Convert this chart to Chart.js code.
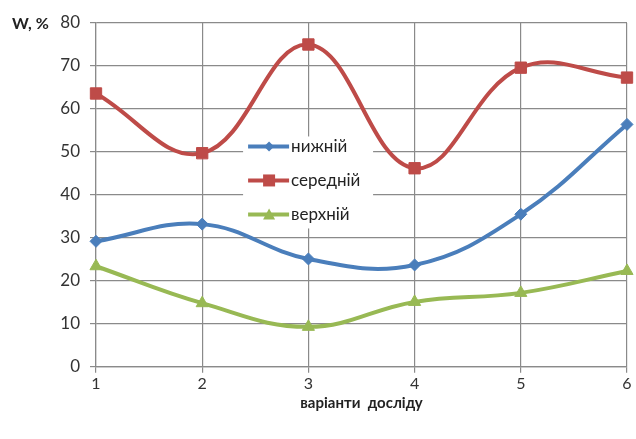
<!DOCTYPE html>
<html>
<head>
<meta charset="utf-8">
<script src="https://cdn.jsdelivr.net/npm/chart.js@4/dist/chart.umd.min.js"></script>
<style>
  html, body { margin: 0; padding: 0; background: #fff; }
  #wrap { width: 636px; height: 439px; }
</style>
</head>
<body>
<div id="wrap"><canvas id="chart" width="636" height="439"></canvas></div>
<script>
// Дані з графіка
const variants = ["1", "2", "3", "4", "5", "6"];
const nyzhnii = [29.2, 33.2, 25.1, 23.7, 35.5, 56.4];
const serednii = [63.6, 49.7, 75.0, 46.2, 69.6, 67.3];
const verkhnii = [23.4, 14.8, 9.3, 15.1, 17.2, 22.3];
const seriesNames = ["нижній", "середній", "верхній"];
const yTitle = "W, %";
const xTitle = "варіанти  досліду";

const FONT = "Lato, 'Open Sans', sans-serif";
const gridColor = "#8a8a8a";

// Легенда всередині області графіка
const innerLegend = {
    id: "innerLegend",
    afterDatasetsDraw(chart) {
        const ctx = chart.ctx;
        const a = chart.chartArea;
        const bx = a.left + (a.right - a.left) * 0.277;
        const by = a.top + (a.bottom - a.top) * 0.33;
        const bw = 130, bh = 92;
        ctx.save();
        ctx.fillStyle = "#fff";
        ctx.fillRect(bx, by, bw, bh);
        chart.data.datasets.forEach((ds, i) => {
            const y = by + 10 + i * 34;
            ctx.strokeStyle = ds.borderColor;
            ctx.lineWidth = 4;
            ctx.beginPath();
            ctx.moveTo(bx + 5, y);
            ctx.lineTo(bx + 46, y);
            ctx.stroke();
            const mx = bx + 26;
            ctx.fillStyle = ds.pointBackgroundColor;
            ctx.beginPath();
            if (ds.pointStyle === "rectRot") {
                ctx.moveTo(mx, y - 5); ctx.lineTo(mx + 5, y); ctx.lineTo(mx, y + 5); ctx.lineTo(mx - 5, y);
            } else if (ds.pointStyle === "rect") {
                ctx.rect(mx - 6, y - 6, 12, 12);
            } else {
                ctx.moveTo(mx, y - 6); ctx.lineTo(mx + 6, y + 5); ctx.lineTo(mx - 6, y + 5);
            }
            ctx.closePath();
            ctx.fill();
            ctx.fillStyle = "#222";
            ctx.font = "17px " + FONT;
            ctx.textBaseline = "middle";
            ctx.textAlign = "left";
            ctx.fillText(ds.label, bx + 48, y);
        });
        ctx.restore();
    }
};

// Підпис осі Y зліва від верхньої позначки
const yLabel = {
    id: "yLabel",
    afterDraw(chart) {
        const ctx = chart.ctx;
        const a = chart.chartArea;
        ctx.save();
        ctx.fillStyle = "#222";
        ctx.font = "bold 16px " + FONT;
        ctx.textBaseline = "middle";
        ctx.textAlign = "left";
        ctx.fillText(yTitle, a.left - 84, a.top + 1);
        ctx.restore();
    }
};

new Chart(document.getElementById("chart"), {
    type: "line",
    data: {
        labels: variants,
        datasets: [
            {
                label: seriesNames[0], data: nyzhnii,
                borderColor: "#4a7ebb", pointBackgroundColor: "#4a7ebb", pointBorderColor: "#4a7ebb",
                pointStyle: "rectRot", pointRadius: 6
            },
            {
                label: seriesNames[1], data: serednii,
                borderColor: "#be4b48", pointBackgroundColor: "#be4b48", pointBorderColor: "#be4b48",
                pointStyle: "rect", pointRadius: 8
            },
            {
                label: seriesNames[2], data: verkhnii,
                borderColor: "#98b954", pointBackgroundColor: "#98b954", pointBorderColor: "#98b954",
                pointStyle: "triangle", pointRadius: 7
            }
        ]
    },
    options: {
        responsive: false,
        animation: false,
        layout: { padding: { top: 23, right: 6, left: 0, bottom: 0 } },
        elements: {
            line: { borderWidth: 4, tension: 0.4, fill: false },
            point: { borderWidth: 1 }
        },
        plugins: {
            legend: { display: false },
            tooltip: { enabled: false }
        },
        scales: {
            x: {
                type: "category",
                offset: false,
                grid: { color: gridColor, lineWidth: 1.2, tickLength: 6, offset: false },
                border: { color: gridColor, width: 1.2 },
                ticks: { color: "#333", font: { family: FONT, size: 16 }, padding: 1, maxRotation: 0 },
                title: {
                    display: true, text: xTitle, color: "#222",
                    font: { family: FONT, size: 15, weight: "bold" }, padding: { top: 0, bottom: 27 }
                }
            },
            y: {
                min: 0, max: 80,
                afterFit(scale) { scale.width = 96; },
                grid: { color: gridColor, lineWidth: 1.2, tickLength: 6 },
                border: { color: gridColor, width: 1.2 },
                ticks: { stepSize: 10, color: "#333", font: { family: FONT, size: 17 }, padding: 10 }
            }
        }
    },
    plugins: [innerLegend, yLabel]
});
</script>
</body>
</html>
